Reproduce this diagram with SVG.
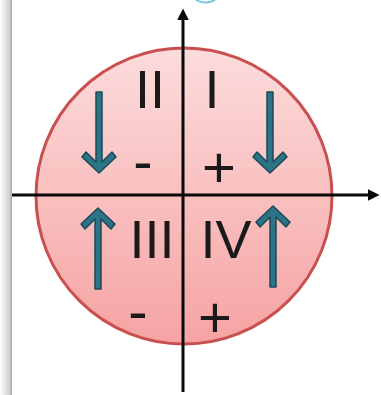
<svg xmlns="http://www.w3.org/2000/svg" width="381" height="395" viewBox="0 0 381 395">
  <style>
    .num { font-family: "Liberation Sans", Arial, sans-serif; font-size: 54px; fill: #1a1a1a; text-anchor: middle; }
    .sign { font-family: "Liberation Sans", Arial, sans-serif; font-size: 58px; fill: #1a1a1a; text-anchor: middle; }
    .axis { stroke: #0a0a0a; stroke-width: 3; fill: none; }
    .arrow { fill: #2b7386; stroke: #1c4a57; stroke-width: 1.5; stroke-linejoin: round; }
  </style>
  <defs>
    <linearGradient id="bg" x1="0" y1="0" x2="1" y2="0">
      <stop offset="0" stop-color="#ffffff"/>
      <stop offset="0.8" stop-color="#cfcfcf"/>
      <stop offset="1" stop-color="#a8a8a8"/>
    </linearGradient>
    <linearGradient id="fill" x1="0" y1="0" x2="0" y2="1">
      <stop offset="0" stop-color="#fcdcdc"/>
      <stop offset="1" stop-color="#f6a3a3"/>
    </linearGradient>
    <path id="down" class="arrow" d="M-3,0 H3 V70 L13,60 L17,65 L0,81 L-17,65 L-13,60 L-3,70 Z"/>
    <marker id="ah" viewBox="0 0 10 10" refX="2" refY="5" markerWidth="4" markerHeight="4" orient="auto" markerUnits="strokeWidth">
      <path d="M0,0 L10,5 L0,10 Z" fill="#0a0a0a"/>
    </marker>
  </defs>
  <rect x="0" y="0" width="381" height="395" fill="#ffffff"/>
  <rect id="border" x="0" y="0" width="12" height="395" fill="url(#bg)"/>
  <path d="M196,0 Q205,5 215,0" stroke="#7ec7e6" stroke-width="2" fill="none"/>
  <g id="circle">
    <circle cx="184" cy="196" r="148" fill="url(#fill)" stroke="#c9504f" stroke-width="3"/>
  </g>
  <g id="connectors">
    <line class="axis" x1="12" y1="195" x2="370" y2="195" marker-end="url(#ah)"/>
    <line class="axis" x1="183" y1="392" x2="183" y2="18" marker-end="url(#ah)"/>
  </g>
  <g id="arrows">
    <use href="#down" transform="translate(99,92)"/>
    <use href="#down" transform="translate(270,92)"/>
    <use href="#down" transform="translate(98,289) scale(1,-1)"/>
    <use href="#down" transform="translate(273,287) scale(1,-1)"/>
  </g>
  <g id="q1"><text class="num" x="212" y="108">I</text><text class="sign" x="219" y="187">+</text></g>
  <g id="q2"><text class="num" x="150" y="108">II</text><text class="sign" x="143" y="181">-</text></g>
  <g id="q3"><text class="num" x="152" y="258">III</text><text class="sign" x="138" y="331">-</text></g>
  <g id="q4"><text class="num" x="226" y="258">IV</text><text class="sign" x="215" y="337">+</text></g>
</svg>
